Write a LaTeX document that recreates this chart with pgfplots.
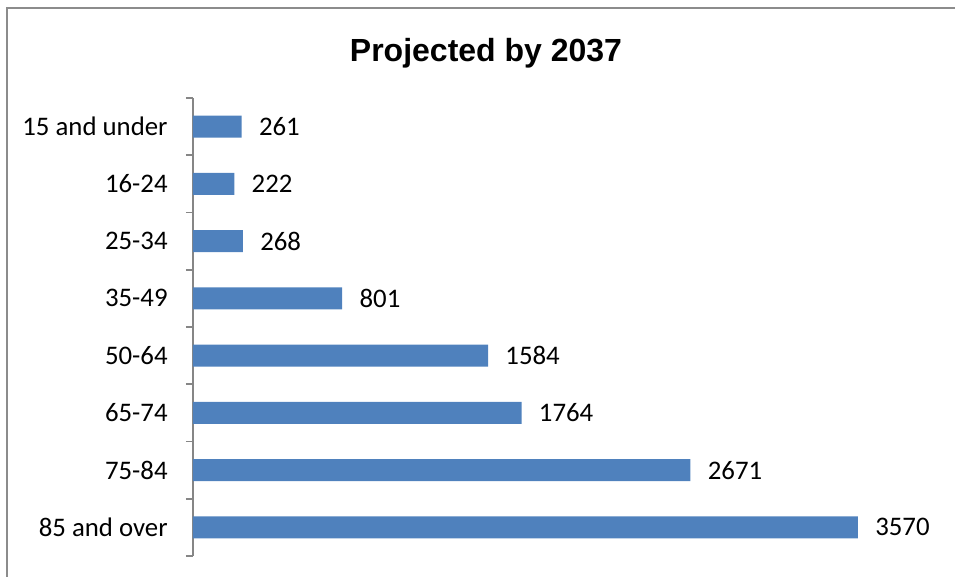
\documentclass[border=0pt]{standalone}
\usepackage{fontspec}
\setmainfont{Carlito}
\newfontfamily\titlefont{Liberation Sans}
\usepackage{pgfplots}
\pgfplotsset{compat=1.18}
\definecolor{barblue}{HTML}{4F81BD}
\definecolor{framegray}{HTML}{8C8C8C}
\definecolor{axisgray}{HTML}{868686}
\begin{document}
\begin{tikzpicture}
% outer chart frame (right and bottom edges lie past the page)
\draw[framegray, line width=1pt] (-93pt,-30pt) -- (-93pt,274pt) -- (400pt,274pt);
\begin{axis}[
  at={(0,0)}, anchor=south west,
  scale only axis,
  width=372.5pt, height=229pt,
  xbar, bar width=11pt,
  xmin=0, xmax=4000,
  ymin=-0.5, ymax=7.5,
  y dir=reverse,
  axis x line=none,
  axis y line=left,
  axis line style={-, color=axisgray, line width=0.8pt},
  ytick={0,...,7},
  yticklabels={15 and under,16-24,25-34,35-49,50-64,65-74,75-84,85 and over},
  minor ytick={-0.5,0.5,...,7.5},
  tick align=outside,
  major tick length=0pt,
  minor tick length=3.5pt,
  minor tick style={color=axisgray, line width=0.8pt},
  yticklabel style={font=\fontsize{13.4}{15}\selectfont, anchor=east, inner sep=0pt, xshift=-12.5pt},
  nodes near coords,
  nodes near coords style={font=\fontsize{13.4}{15}\selectfont, anchor=west, inner sep=0pt, xshift=8.5pt},
  point meta=explicit symbolic,
  clip=false,
]
\addplot[fill=barblue, draw=none] coordinates {
  (261,0) [261]
  (222,1) [222]
  (268,2) [268]
  (801,3) [801]
  (1584,4) [1584]
  (1764,5) [1764]
  (2671,6) [2671]
  (3570,7) [3570]
};
\end{axis}
\node[anchor=base, font=\titlefont\bfseries\fontsize{16}{19}\selectfont] at (146.5pt,247pt) {Projected by 2037};
\pgfresetboundingbox
\useasboundingbox (-96.5pt,-10.5pt) rectangle (381pt,278pt);
\end{tikzpicture}
\end{document}
